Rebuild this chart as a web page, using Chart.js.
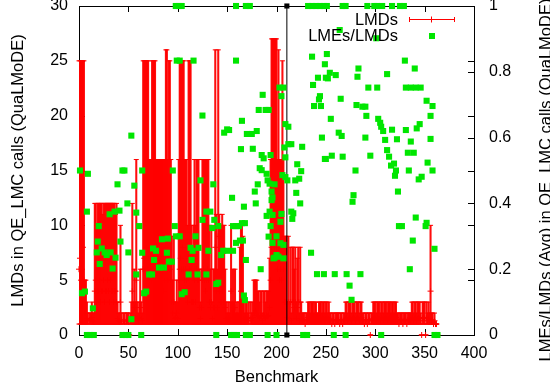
<!DOCTYPE html>
<html>
<head>
<meta charset="utf-8">
<script src="https://cdn.jsdelivr.net/npm/chart.js@4.4.1/dist/chart.umd.min.js"></script>
<style>
  html, body { margin: 0; padding: 0; background: #fff; }
</style>
</head>
<body>
<canvas id="chart" width="550" height="391"></canvas>
<script>
// LMDs per benchmark (index = benchmark number)
const lmdMax = [
  25,25,25,25,25,25,5,5,3,2,
  0,2,2,3,2,2,12,12,10,12,
  12,12,12,12,11,12,12,12,12,12,
  12,12,12,12,12,12,12,11,12,3,
  2,2,10,2,0,2,2,0,2,2,
  2,0,2,3,12,3,6,3,16,3,
  2,3,6,3,2,25,25,25,25,25,
  25,16,16,16,25,25,25,25,16,16,
  16,16,16,16,16,16,16,16,26,26,
  16,25,25,16,9,5,9,3,3,5,
  3,16,25,25,25,25,25,16,16,16,
  10,25,25,25,10,8,10,16,10,16,
  16,16,6,3,6,16,16,16,16,16,
  16,16,10,6,10,3,6,6,26,11,
  6,26,11,10,10,11,10,10,6,3,
  2,3,2,3,10,3,6,3,6,2,
  3,2,3,8,10,10,9,3,2,3,
  3,2,3,0,3,2,3,5,5,5,
  5,4,4,3,4,4,2,4,4,3,
  4,4,4,7,16,27,27,27,27,27,
  27,16,26,16,16,16,25,16,9,9,
  9,3,9,3,8,2,8,8,6,8,
  3,7,8,2,8,3,2,2,2,1,
  2,2,3,3,2,3,3,3,2,3,
  3,2,2,3,3,3,2,3,3,2,
  3,3,2,3,2,2,1,2,2,1,
  2,2,2,2,1,2,2,1,2,2,
  3,3,2,3,3,3,2,3,3,3,
  2,3,3,3,2,3,3,2,2,1,
  2,2,1,2,2,0,2,2,3,3,
  3,2,3,3,3,2,3,3,2,3,
  3,3,2,3,3,3,2,3,3,2,
  3,3,2,2,1,2,2,2,1,2,
  2,2,1,2,2,2,2,3,3,2,
  3,3,2,3,3,3,2,0,3,3,
  3,0,3,2,3,2,10,2,2,1,
  2,1,1,0
];
const lmdMin = [
  1,1,1,1,1,1,1,1,1,1,
  0,1,1,1,1,1,1,1,1,1,
  1,1,1,1,1,1,1,1,1,1,
  1,1,1,1,1,1,1,1,1,1,
  1,1,1,1,0,1,1,0,1,1,
  1,0,1,1,1,1,1,1,1,1,
  1,1,1,1,1,1,1,1,1,1,
  1,1,1,1,1,1,1,1,1,1,
  1,1,1,1,1,1,1,1,1,1,
  1,1,1,1,1,1,1,1,1,1,
  1,1,1,1,1,1,1,1,1,1,
  1,1,1,1,1,1,1,1,1,1,
  1,1,1,1,1,1,1,1,1,1,
  1,1,1,1,1,1,1,1,1,1,
  1,1,1,1,1,1,1,1,1,1,
  1,1,1,1,1,1,1,1,1,1,
  1,1,1,1,1,1,1,1,1,1,
  1,1,1,0,1,1,1,1,1,1,
  1,1,1,1,1,1,1,1,1,1,
  1,1,1,1,1,1,1,1,1,1,
  1,1,1,1,1,1,1,1,1,1,
  1,1,1,1,1,1,1,1,1,1,
  1,1,1,1,1,1,1,1,1,1,
  1,1,1,1,1,1,1,1,1,1,
  1,1,1,1,1,1,1,1,1,1,
  1,1,1,1,1,1,1,1,1,1,
  1,1,1,1,1,1,1,1,1,1,
  1,1,1,1,1,1,1,1,1,1,
  1,1,1,1,1,1,1,1,1,1,
  1,1,1,1,1,0,1,1,1,1,
  1,1,1,1,1,1,1,1,1,1,
  1,1,1,1,1,1,1,1,1,1,
  1,1,1,1,1,1,1,1,1,1,
  1,1,1,1,1,1,1,1,1,1,
  1,1,1,1,1,1,1,0,1,1,
  1,0,1,1,1,1,1,1,1,1,
  1,1,1,0
];
const lmdAvg = [
  6,7,5,6,8,5,2,2,1.5,1.3,
  0,1.3,1.4,1.6,1.3,1.2,4,5,3,4,
  4,5,3,4,4,5,3,4,4,5,
  4,3,5,4,4,3,4,4,3,1.5,
  1.3,1.2,3,1.4,0,1.3,1.2,0,1.3,1.4,
  1.2,0,1.3,1.6,4,1.5,2.5,1.5,5,1.5,
  1.3,1.6,2.5,1.5,1.3,6,7,6,8,6,
  7,5,6,5,6,8,6,7,5,6,
  5,4,6,5,5,6,4,5,8,9,
  5,7,6,5,3,2,3,1.5,1.6,2,
  1.5,5,6,7,6,8,6,5,6,5,
  3,7,6,7,3,3,3,5,3,6,
  5,5,2.5,1.5,2.5,5,6,5,4,5,
  6,5,3,2.5,3,1.5,2.5,2.5,8,4,
  2.5,9,4,3,3,4,3,3,2.5,1.5,
  1.3,1.6,1.2,1.5,4,1.5,2.5,1.6,2.5,1.3,
  1.5,1.3,1.6,3,4,3,3,1.5,1.3,1.6,
  1.5,1.3,1.6,0,1.5,1.3,1.6,2,2,2.2,
  2,1.8,1.7,1.5,1.8,1.7,1.3,1.8,1.7,1.5,
  1.8,1.7,1.8,2.5,5,8,9,7,8,9,
  8,6,8,5,6,5,7,6,3,3,
  3,1.6,3,1.5,3,1.3,3,3,2.5,3,
  1.5,2.5,3,1.3,3,1.5,1.3,1.4,1.3,1,
  1.3,1.4,1.6,1.5,1.3,1.5,1.6,1.5,1.3,1.6,
  1.5,1.3,1.4,1.6,1.5,1.5,1.3,1.6,1.5,1.3,
  1.5,1.6,1.3,1.5,1.3,1.4,1,1.3,1.4,1,
  1.3,1.4,1.3,1.4,1,1.3,1.4,1,1.3,1.4,
  1.5,1.6,1.3,1.5,1.6,1.5,1.3,1.5,1.6,1.5,
  1.3,1.5,1.6,1.5,1.3,1.5,1.6,1.3,1.4,1,
  1.3,1.4,1,1.3,1.4,0,1.3,1.4,1.5,1.6,
  1.5,1.3,1.6,1.5,1.5,1.3,1.6,1.5,1.3,1.5,
  1.6,1.5,1.3,1.5,1.6,1.5,1.3,1.5,1.6,1.3,
  1.5,1.6,1.3,1.4,1,1.3,1.4,1.3,1,1.3,
  1.4,1.3,1,1.4,1.3,1.4,1.3,1.5,1.6,1.3,
  1.5,1.6,1.3,1.5,1.6,1.5,1.3,0,1.5,1.6,
  1.5,0,1.6,1.3,1.5,1.3,4,1.3,1.4,1,
  1.3,1,1,0
];

// LMEs/LMDs ratio (right axis): benchmark and value
const ratioBench = [
  8,11,15,44,47,50,63,139,154,157,160,169,173,191,200,227,231,258,270,306,360,363,
  98,101,104,159,169,173,232,236,240,244,248,251,267,270,292,299,302,307,317,325,329,
  1,3,6,8,9,14,18,19,20,21,23,26,28,31,32,34,36,37,39,41,42,44,46,49,50,
  53,53,56,58,58,61,64,64,66,68,71,74,75,76,78,81,84,86,89,90,91,94,95,97,
  99,98,102,102,104,107,111,113,114,115,116,118,120,121,123,125,125,129,129,131,
  133,135,136,137,139,141,141,144,146,147,150,151,152,155,156,156,159,159,159,162,
  163,164,165,165,166,167,167,168,168,169,170,175,176,178,179,180,181,182,183,184,
  185,185,186,187,189,190,190,191,192,192,193,193,194,194,195,195,196,196,196,197,
  198,198,200,200,202,203,204,204,205,205,206,207,207,207,208,209,209,209,211,212,
  212,215,215,216,217,219,220,221,223,224,225,226,235,236,237,238,241,242,243,244,
  245,246,248,249,249,250,250,251,252,254,255,256,259,260,263,264,265,266,267,271,
  274,276,277,278,280,281,282,283,285,287,290,290,291,293,295,301,302,303,305,306,
  308,310,312,312,314,316,317,319,320,321,322,323,324,327,330,331,331,333,334,335,
  336,336,338,339,340,341,341,342,344,345,346,347,351,352,352,353,356,356,358,358,
  360
];
const ratioValue = [
  0,0,0,0,0,0,0,0,0,0,0,0,0,0,0,0,0,0,0,0,0,0,
  1,1,1,1,1,1,1,1,1,1,1,1,1,1,1,1,1,1,1,1,1,
  0.50,0.127,0.132,0.375,0.49,0.081,0.251,0.284,0.331,0.216,0.263,0.251,0.243,0.367,0.251,0.202,0.375,0.235,0.458,0.378,0.284,0.50,0.50,0.40,0.251,
  0.606,0.048,0.454,0.372,0.184,0.331,0.50,0.25,0.127,0.132,0.184,0.184,0.263,0.228,0.256,0.205,0.291,0.205,0.25,0.293,0.223,0.223,0.50,0.331,
  0.834,0.30,0.834,0.30,0.124,0.13,0.184,0.265,0.228,0.256,0.834,0.30,0.184,0.265,0.47,0.667,0.35,0.375,0.184,0.256,
  0.375,0.325,0.458,0.35,0.155,0.331,0.159,0.243,0.256,0.615,0.625,0.256,0.623,0.417,0.256,0.331,0.834,0.331,0.28,0.331,
  0.287,0.565,0.651,0.34,0.287,0.39,0.12,0.34,0.106,0.228,0.611,0.611,0.566,0.436,0.40,0.62,0.458,0.684,0.507,0.20,
  0.547,0.501,0.73,0.537,0.684,0.362,0.49,0.47,0.684,0.299,0.375,0.46,0.547,0.331,0.436,0.41,0.28,0.418,0.365,0.233,
  0.458,0.235,0.243,0.30,0.238,0.752,0.344,0.279,0.368,0.726,0.486,0.752,0.274,0.233,0.57,0.641,0.48,0.54,0.47,0.633,
  0.58,0.58,0.375,0.353,0.37,0.47,0.432,0.519,0.475,0.40,0.498,0.572,0.25,0.846,0.76,0.696,0.185,0.782,0.716,0.726,
  0.696,0.60,0.185,0.823,0.535,0.782,0.535,0.854,0.78,0.797,0.657,0.545,0.185,0.79,0.615,0.927,0.718,0.605,0.542,0.185,
  0.15,0.107,0.405,0.425,0.50,0.699,0.785,0.81,0.185,0.694,0.694,0.60,0.666,0.752,0.545,0.902,0.752,0.657,0.645,0.633,
  0.62,0.593,0.562,0.793,0.542,0.515,0.624,0.521,0.484,0.50,0.595,0.436,0.331,0.331,0.834,0.623,0.752,0.554,0.50,0.20,
  0.588,0.752,0.287,0.554,0.81,0.357,0.752,0.628,0.473,0.641,0.752,0.481,0.331,0.341,0.712,0.524,0.666,0.596,0.696,0.50,
  0.262
];

// black divider line
const dividerX = [210.5, 210.5];
const dividerY = [0, 30];

const FONT = "'Liberation Sans', Arial, sans-serif";
Chart.defaults.font.family = FONT;
Chart.defaults.font.size = 16;
Chart.defaults.color = '#000';

const benchmarks = lmdMax.map((v, i) => i);
const barData = [], capData = [], meanData = [];
benchmarks.forEach((b, i) => {
  if (lmdMax[i] > lmdMin[i]) barData.push({ x: b, y: [lmdMin[i], lmdMax[i]] });
  capData.push({ x: b, y: lmdMin[i] }, { x: b, y: lmdMax[i] });
  meanData.push({ x: b, y: lmdAvg[i] });
});
const ratioData = ratioBench.map((b, i) => ({ x: b, y: ratioValue[i] }));
const dividerData = dividerX.map((x, i) => ({ x: x, y: dividerY[i] }));

// gnuplot style box, inward ticks, key and y2 label
const gnuplotFrame = {
  id: 'gnuplotFrame',
  beforeDatasetsDraw(chart) {
    const ctx = chart.ctx;
    const a = chart.chartArea;
    const x = chart.scales.x, y = chart.scales.y, y2 = chart.scales.y2;
    ctx.save();
    ctx.strokeStyle = '#000';
    ctx.lineWidth = 1;
    ctx.strokeRect(Math.round(a.left) + 0.5, Math.round(a.top) + 0.5,
      Math.round(a.right - a.left), Math.round(a.bottom - a.top));
    ctx.beginPath();
    x.ticks.forEach(t => {
      const px = Math.round(x.getPixelForValue(t.value)) + 0.5;
      ctx.moveTo(px, a.bottom); ctx.lineTo(px, a.bottom - 6);
      ctx.moveTo(px, a.top); ctx.lineTo(px, a.top + 6);
    });
    y.ticks.forEach(t => {
      const py = Math.round(y.getPixelForValue(t.value)) + 0.5;
      ctx.moveTo(a.left, py); ctx.lineTo(a.left + 6, py);
      ctx.moveTo(a.right, py); ctx.lineTo(a.right - 6, py);
    });
    y2.ticks.forEach(t => {
      const py = Math.round(y2.getPixelForValue(t.value)) + 0.5;
      ctx.moveTo(a.right, py); ctx.lineTo(a.right - 6, py);
    });
    ctx.stroke();
    ctx.restore();
  },
  afterDraw(chart) {
    const ctx = chart.ctx;
    ctx.save();
    ctx.font = '16.5px ' + FONT;
    ctx.fillStyle = '#000';
    ctx.textAlign = 'right';
    ctx.textBaseline = 'middle';
    ctx.fillText('LMDs', 398, 20);
    ctx.fillText('LMEs/LMDs', 398, 36);
    // LMDs key sample
    ctx.strokeStyle = '#ff0000';
    ctx.lineWidth = 1;
    ctx.beginPath();
    ctx.moveTo(409, 19.5); ctx.lineTo(455, 19.5);
    ctx.moveTo(409.5, 17); ctx.lineTo(409.5, 22);
    ctx.moveTo(454.5, 17); ctx.lineTo(454.5, 22);
    ctx.moveTo(431.5, 16.5); ctx.lineTo(431.5, 22.5);
    ctx.stroke();
    // LMEs/LMDs key sample
    ctx.fillStyle = '#00e600';
    ctx.fillRect(429, 33, 6, 6);
    // y2 label, read bottom to top like the left one
    ctx.fillStyle = '#000';
    ctx.translate(546, 180);
    ctx.rotate(-Math.PI / 2);
    ctx.textAlign = 'center';
    ctx.fillText('LMEs/LMDs (Avg) in QE_LMC calls (QuaLMoDE)', 0, 0);
    ctx.restore();
  }
};

new Chart(document.getElementById('chart'), {
  type: 'scatter',
  data: {
    datasets: [
      {
        type: 'bar', label: 'LMDs', data: barData, yAxisID: 'y',
        backgroundColor: 'rgba(255,0,0,0.95)', borderWidth: 0,
        barThickness: 1.4, order: 5
      },
      {
        label: 'LMDs range', data: capData, yAxisID: 'y',
        pointStyle: 'line', pointRadius: 2.5, pointBorderColor: '#ff0000',
        pointBorderWidth: 1, order: 4, clip: false
      },
      {
        label: 'LMDs mean', data: meanData, yAxisID: 'y',
        pointStyle: 'cross', pointRadius: 3, pointBorderColor: '#ff0000',
        pointBorderWidth: 1, order: 3, clip: false
      },
      {
        type: 'line', label: 'divider', data: dividerData, yAxisID: 'y',
        borderColor: '#000', borderWidth: 1, pointStyle: 'rect', pointRadius: 3.6,
        pointBackgroundColor: '#000', pointBorderColor: '#000', pointBorderWidth: 0,
        order: 2, clip: false
      },
      {
        label: 'LMEs/LMDs', data: ratioData, yAxisID: 'y2',
        pointStyle: 'rect', pointRadius: 4.3, pointBackgroundColor: '#00e600',
        pointBorderWidth: 0, order: 1, clip: false
      }
    ]
  },
  options: {
    responsive: false,
    animation: false,
    devicePixelRatio: 1,
    events: [],
    layout: { padding: { top: 6, left: 0, right: 0, bottom: 0 } },
    plugins: { legend: { display: false }, tooltip: { enabled: false } },
    scales: {
      x: {
        type: 'linear', position: 'bottom', min: 0, max: 400, offset: false,
        grid: { display: false, drawTicks: false, offset: false }, border: { display: false },
        ticks: { stepSize: 50, padding: 9, maxRotation: 0, autoSkip: false },
        title: { display: true, text: 'Benchmark', font: { size: 16.5 }, padding: { top: 0, bottom: 4 } },
        afterFit: s => { s.height = 56; s.paddingLeft = 0; s.paddingRight = 0; }
      },
      y: {
        type: 'linear', position: 'left', min: 0, max: 30,
        grid: { display: false, drawTicks: false }, border: { display: false },
        ticks: { stepSize: 5, padding: 11 },
        title: { display: true, text: 'LMDs in QE_LMC calls (QuaLMoDE)', font: { size: 16.5 }, padding: { top: 9, bottom: 0 } },
        afterFit: s => { s.width = 79; s.paddingTop = 0; s.paddingBottom = 0; }
      },
      y2: {
        type: 'linear', position: 'right', min: 0, max: 1,
        grid: { display: false, drawTicks: false }, border: { display: false },
        ticks: { stepSize: 0.2, padding: 15, callback: v => String(Math.round(v * 10) / 10) },
        afterFit: s => { s.width = 76; s.paddingTop = 0; s.paddingBottom = 0; }
      }
    }
  },
  plugins: [gnuplotFrame]
});
</script>
</body>
</html>
